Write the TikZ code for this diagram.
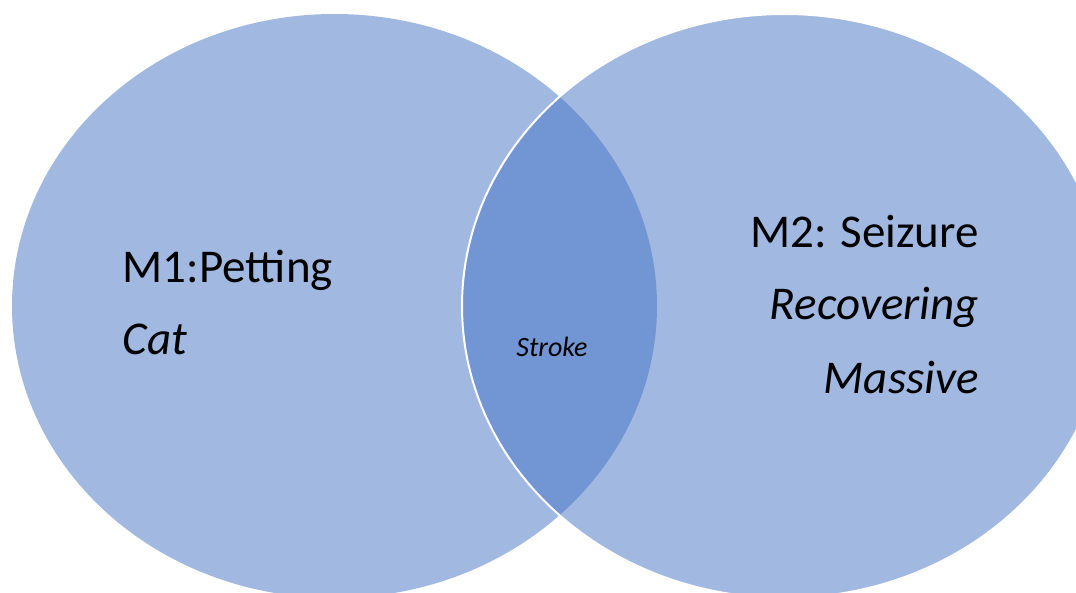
\documentclass[tikz,border=0pt]{standalone}
\usepackage{fontspec}
\setmainfont{Carlito}
\definecolor{accent}{HTML}{4472C4}
\tikzset{
  setshape/.style={fill=accent, fill opacity=0.5},
  bigtext/.style={inner sep=0pt, font=\fontsize{47}{56}\selectfont},
  smalltext/.style={inner sep=0pt, font=\fontsize{28}{34}\selectfont\itshape},
}
\begin{document}
\begin{tikzpicture}[x=1pt,y=-1pt]
\useasboundingbox (0,0) rectangle (1076,593);
\begin{scope}
\clip (0,0) rectangle (1076,593);
\fill[setshape] (334.5,306) ellipse [x radius=322.5, y radius=292];
\filldraw[setshape, draw=white, line width=2pt] (784.5,306) ellipse [x radius=322.5, y radius=292];
\end{scope}
\node[bigtext, anchor=base west] (m1) at (122.5,283) {M1:Petting};
\node[bigtext, anchor=base west] (cat) at (122.5,355) {\itshape Cat};
\node[smalltext, anchor=base] (stroke) at (552,357) {Stroke};
\node[bigtext, anchor=base east] (m2) at (979,248) {M2: Seizure};
\node[bigtext, anchor=base east] (rec) at (979,320) {\itshape Recovering};
\node[bigtext, anchor=base east] (mas) at (979,393) {\itshape Massive};
\end{tikzpicture}
\end{document}
